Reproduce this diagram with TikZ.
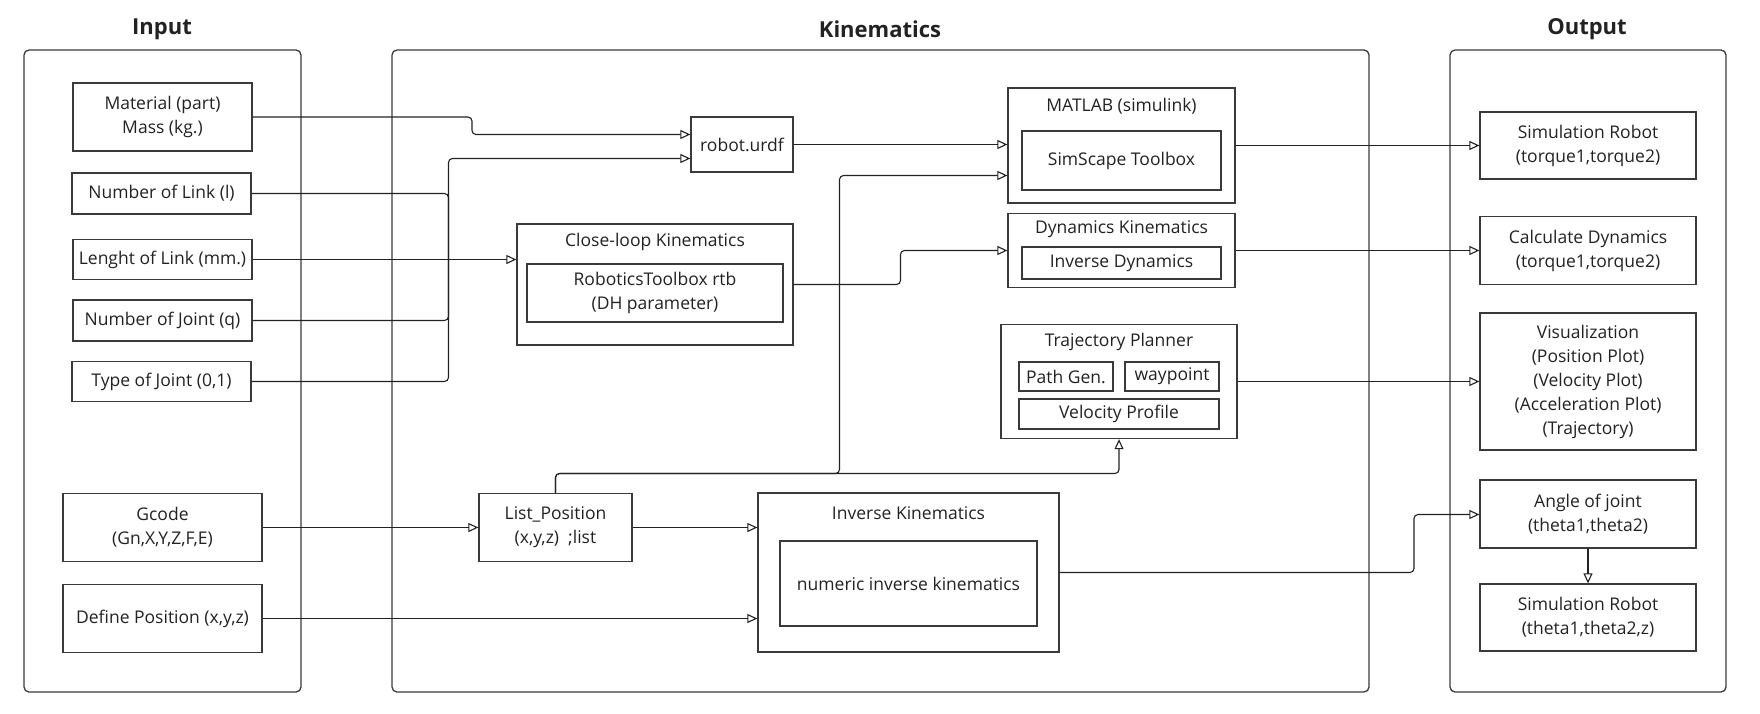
\documentclass[tikz,border=0pt]{standalone}
\usepackage{fontspec}
\setmainfont{Open Sans}
\usetikzlibrary{arrows.meta,positioning,calc}
\definecolor{edge}{HTML}{3A3A3A}
\definecolor{ink}{HTML}{222222}

\begin{document}
\begin{tikzpicture}[x=1pt,y=-1pt,>={Triangle[open,length=10pt,width=9pt]},
  font=\fontsize{17.5}{24}\selectfont,text=ink,
  frame/.style={draw=edge,line width=1.3pt,rounded corners=5pt,inner sep=0pt},
  box/.style={draw=edge,line width=1.3pt,inner sep=0pt,align=center},
  head/.style={font=\fontsize{22}{26}\selectfont\bfseries},
  lbl/.style={inner sep=0pt},
  wire/.style={draw=ink,line width=1.1pt,rounded corners=4pt},
  flow/.style={wire,->}]
  \useasboundingbox (0,0) rectangle (1760,714);

  % three columns
  \node[frame,minimum width=277pt,minimum height=642pt] (input) at (162.5,371) {};
  \node[frame,minimum width=977pt,minimum height=642pt] (kin) at (880.5,371) {};
  \node[frame,minimum width=276pt,minimum height=642pt] (output) at (1588,371) {};
  \node[head] (inputt) at (162,29) {Input};
  \node[head] (kint) at (880,29) {Kinematics};
  \node[head] (outputt) at (1587,29) {Output};

  % input
  \node[box,minimum width=179pt,minimum height=68pt] (mat) at (162.5,117) {Material (part)\\Mass (kg.)};
  \node[box,minimum width=179pt,minimum height=41pt] (link) at (161.5,193.5) {Number of Link (l)};
  \node[box,minimum width=179pt,minimum height=40pt] (len) at (162.5,259.5) {Lenght of Link (mm.)};
  \node[box,minimum width=179pt,minimum height=41pt] (joint) at (162.5,320.5) {Number of Joint (q)};
  \node[box,minimum width=179pt,minimum height=40pt] (type) at (161.5,381.5) {Type of Joint (0,1)};
  \node[box,minimum width=199pt,minimum height=68pt] (gcode) at (162.5,527.5) {Gcode\\(Gn,X,Y,Z,F,E)};
  \node[box,minimum width=199pt,minimum height=68pt] (defpos) at (162.5,618.5) {Define Position (x,y,z)};

  % kinematics
  \node[box,minimum width=102pt,minimum height=55pt] (urdf) at (742,144.5) {robot.urdf};
  \node[box,minimum width=276pt,minimum height=121pt] (close) at (655,284.5) {};
  \node[lbl] (closet) at (655,242) {Close-loop Kinematics};
  \node[box,minimum width=256pt,minimum height=58pt] (rtb) at (655,293) {RoboticsToolbox rtb\\(DH parameter)};
  \node[box,minimum width=227pt,minimum height=115pt] (matlab) at (1121.5,145.5) {};
  \node[lbl] (matlabt) at (1121.5,106) {MATLAB (simulink)};
  \node[box,minimum width=199pt,minimum height=59pt] (simscape) at (1121.5,160.5) {SimScape Toolbox};
  \node[box,minimum width=227pt,minimum height=74pt] (dyn) at (1121.5,250.5) {};
  \node[lbl] (dynt) at (1121.5,229) {Dynamics Kinematics};
  \node[box,minimum width=199pt,minimum height=32pt] (invdyn) at (1121.5,263) {Inverse Dynamics};
  \node[box,minimum width=236pt,minimum height=114pt] (traj) at (1119,381.5) {};
  \node[lbl] (trajt) at (1119,342) {Trajectory Planner};
  \node[box,minimum width=94pt,minimum height=29pt] (path) at (1066,376.5) {Path Gen.};
  \node[box,minimum width=94pt,minimum height=29pt] (wayp) at (1172,376.5) {waypoint};
  \node[box,minimum width=200pt,minimum height=30pt] (velo) at (1119,414) {Velocity Profile};
  \node[box,minimum width=153pt,minimum height=68pt] (listpos) at (555.5,527.5) {List\_Position\\(x,y,z)\ \ ;list};
  \node[box,minimum width=301pt,minimum height=159pt] (ik) at (908.5,572.5) {};
  \node[lbl] (ikt) at (908.5,513) {Inverse Kinematics};
  \node[box,minimum width=257pt,minimum height=85pt] (numik) at (908.5,583.5) {numeric inverse kinematics};

  % output
  \node[box,minimum width=216pt,minimum height=67pt] (simt) at (1588,145.5) {Simulation Robot\\(torque1,torque2)};
  \node[box,minimum width=216pt,minimum height=68pt] (calc) at (1588,250.5) {Calculate Dynamics\\(torque1,torque2)};
  \node[box,minimum width=216pt,minimum height=137pt] (vis) at (1588,381.5) {Visualization\\(Position Plot)\\(Velocity Plot)\\(Acceleration Plot)\\(Trajectory)};
  \node[box,minimum width=216pt,minimum height=68pt] (angle) at (1588,514) {Angle of joint\\(theta1,theta2)};
  \node[box,minimum width=216pt,minimum height=67pt] (simz) at (1588,617.5) {Simulation Robot\\(theta1,theta2,z)};

  % connectors
  \draw[flow] (mat.east) -| (472,134.5) -- ([yshift=10pt]urdf.west);
  \draw[flow] (type.east) -| (448.5,158.5) -- ([yshift=-14pt]urdf.west);
  \draw[wire] (link.east) -| (448.5,259.5);
  \draw[wire] (joint.east) -| (448.5,259.5);
  \draw[flow] (len.east) -- (len.east -| close.west);
  \draw[flow] (urdf.east) -- (urdf.east -| matlab.west);
  \draw[flow] (close.east) -| (900.5,250.5) -- (dyn.west);
  \draw[flow] (listpos.north) |- (839.5,473.5) |- ([yshift=-30pt]matlab.west);
  \draw[flow] (listpos.north) |- (1119,473.5) -- (traj.south);
  \draw[flow] (gcode.east) -- (listpos.west);
  \draw[flow] (listpos.east) -- (listpos.east -| ik.west);
  \draw[flow] (defpos.east) -- (defpos.east -| ik.west);
  \draw[flow] (matlab.east) -- (matlab.east -| simt.west);
  \draw[flow] (dyn.east) -- (calc.west);
  \draw[flow] (traj.east) -- (traj.east -| vis.west);
  \draw[flow] (ik.east) -| (1414,514.5) -- (angle.west |- 0,514.5);
  \draw[flow] (angle.south) -- (simz.north);
\end{tikzpicture}
\end{document}
